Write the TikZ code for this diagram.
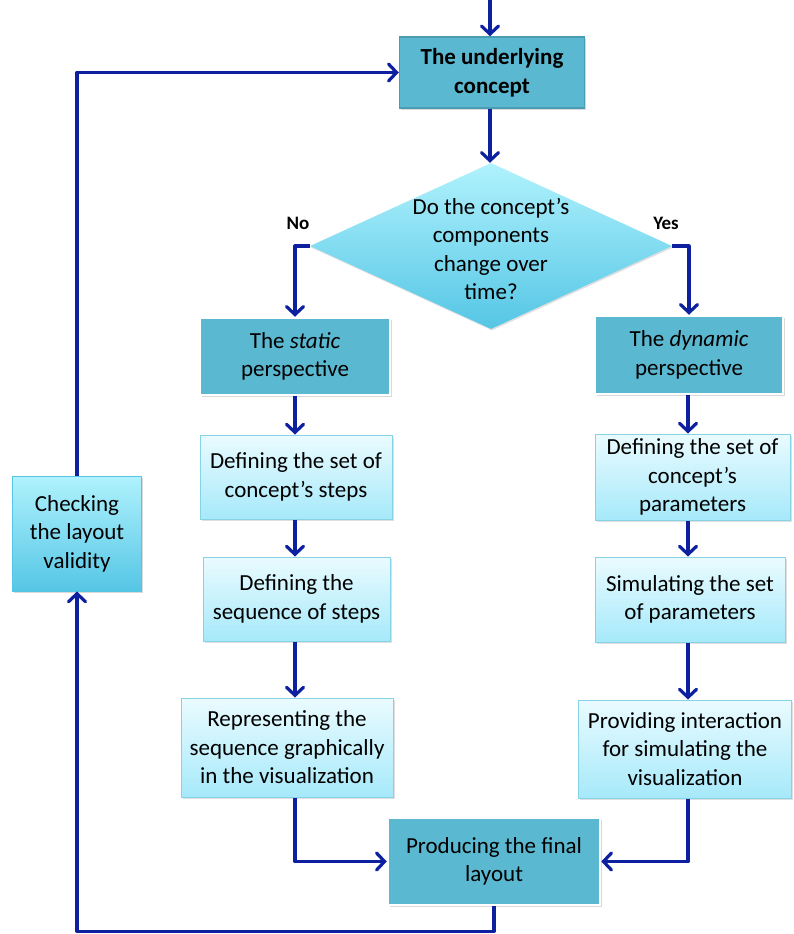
\documentclass[tikz,border=0pt]{standalone}
\usepackage{fontspec}
\setmainfont{Carlito}
\usetikzlibrary{arrows.meta,shapes.geometric,shadows}

\definecolor{flowline}{HTML}{0D20A0}
\definecolor{darkfill}{HTML}{5BB8D1}
\definecolor{darkedge}{HTML}{4A9CB3}
\definecolor{lighttop}{HTML}{EAFBFF}
\definecolor{lightbot}{HTML}{A6E9FA}
\definecolor{lightedge}{HTML}{86D3E6}
\definecolor{cyantop}{HTML}{B0F2FD}
\definecolor{cyanbot}{HTML}{55C6E5}

\tikzset{
  every node/.style={font=\fontsize{23}{28.5}\selectfont, align=center, inner sep=0pt},
  darkbox/.style={rectangle, fill=darkfill, draw=white, line width=2.5pt,
    drop shadow={opacity=0.3, shadow xshift=1.5pt, shadow yshift=-1.5pt}},
  headbox/.style={rectangle, fill=darkfill, draw=darkedge, line width=1.5pt,
    drop shadow={opacity=0.3, shadow xshift=1.5pt, shadow yshift=-1.5pt}},
  lightbox/.style={rectangle, top color=lighttop, bottom color=lightbot,
    draw=lightedge, line width=1pt,
    drop shadow={opacity=0.25, shadow xshift=1.5pt, shadow yshift=-1.5pt}},
  checkbox/.style={rectangle, top color=cyantop, bottom color=cyanbot,
    draw=cyanbot, line width=1pt,
    drop shadow={opacity=0.3, shadow xshift=1.5pt, shadow yshift=-1.5pt}},
  decision/.style={diamond, top color=cyantop, bottom color=cyanbot, draw=none,
    drop shadow={opacity=0.25, shadow xshift=1pt, shadow yshift=-1.5pt}},
  flow/.style={draw=flowline, line width=3.2pt, line join=round},
  arr/.style={flow, -{Straight Barb[length=8pt, width=17pt, line cap=round]}},
  branch/.style={font=\fontsize{19}{22}\selectfont\bfseries},
}

\begin{document}
\begin{tikzpicture}[x=1pt, y=-1pt]
  \useasboundingbox (0,0) rectangle (793,934);

  % entry point above the first step, and the vertical lines of both branches
  \coordinate (entry) at (490,0);
  \coordinate (lx) at (295,0);
  \coordinate (rx) at (688,0);

  % main steps
  \node[headbox, minimum width=185pt, minimum height=71pt] (top) at (492,72.5)
    {\bfseries The underlying\\\bfseries concept};

  \node[decision, minimum width=362pt, minimum height=166pt] (dia) at (491,246) {};
  \node (diatext) at (491,249) {Do the concept’s\\components\\change over\\time?};

  \node[branch] (no) at (298,223) {No};
  \node[branch] (yes) at (666,223) {Yes};

  % static branch
  \node[darkbox, minimum width=190pt, minimum height=77pt] (static) at (295,356.5)
    {The \textit{static}\\perspective};
  \node[lightbox, minimum width=192pt, minimum height=84pt] (s1) at (296,477)
    {Defining the set of\\concept’s steps};
  \node[lightbox, minimum width=187pt, minimum height=84pt] (s2) at (296.5,599)
    {Defining the\\sequence of steps};
  \node[lightbox, minimum width=212pt, minimum height=99pt] (s3) at (287,747.5)
    {Representing the\\sequence graphically\\in the visualization};

  % dynamic branch
  \node[darkbox, minimum width=188pt, minimum height=78pt] (dynamic) at (689,355)
    {The \textit{dynamic}\\perspective};
  \node[lightbox, minimum width=195pt, minimum height=86pt] (d1) at (692.5,477)
    {Defining the set of\\concept’s\\parameters};
  \node[lightbox, minimum width=190pt, minimum height=85pt] (d2) at (690,599.5)
    {Simulating the set\\of parameters};
  \node[lightbox, minimum width=213pt, minimum height=98pt] (d3) at (685,749)
    {Providing interaction\\for simulating the\\visualization};

  % merge and validation
  \node[darkbox, minimum width=212pt, minimum height=87pt] (final) at (494,861.5)
    {Producing the final\\layout};
  \node[checkbox, minimum width=129pt, minimum height=115pt] (check) at (77,533.5)
    {Checking\\the layout\\validity};

  % connectors
  \draw[arr] (entry) -- (entry |- top.north);
  \draw[arr] (top.south -| entry) -- (dia.north -| entry);
  \draw[arr] (dia.west) -| (static.north);
  \draw[arr] (dia.east) -| (dynamic.north);

  \draw[arr] (static.south) -- (s1.north -| lx);
  \draw[arr] (s1.south -| lx) -- (s2.north -| lx);
  \draw[arr] (s2.south -| lx) -- (s3.north -| lx);
  \draw[arr] (s3.south -| lx) |- (final.west);

  \draw[arr] (dynamic.south -| rx) -- (d1.north -| rx);
  \draw[arr] (d1.south -| rx) -- (d2.north -| rx);
  \draw[arr] (d2.south -| rx) -- (d3.north -| rx);
  \draw[arr] (d3.south -| rx) |- (final.east);

  \draw[arr] (final.south) -- ++(0,25) -| (check.south);
  \draw[arr] (check.north) |- (top.west);
\end{tikzpicture}
\end{document}
